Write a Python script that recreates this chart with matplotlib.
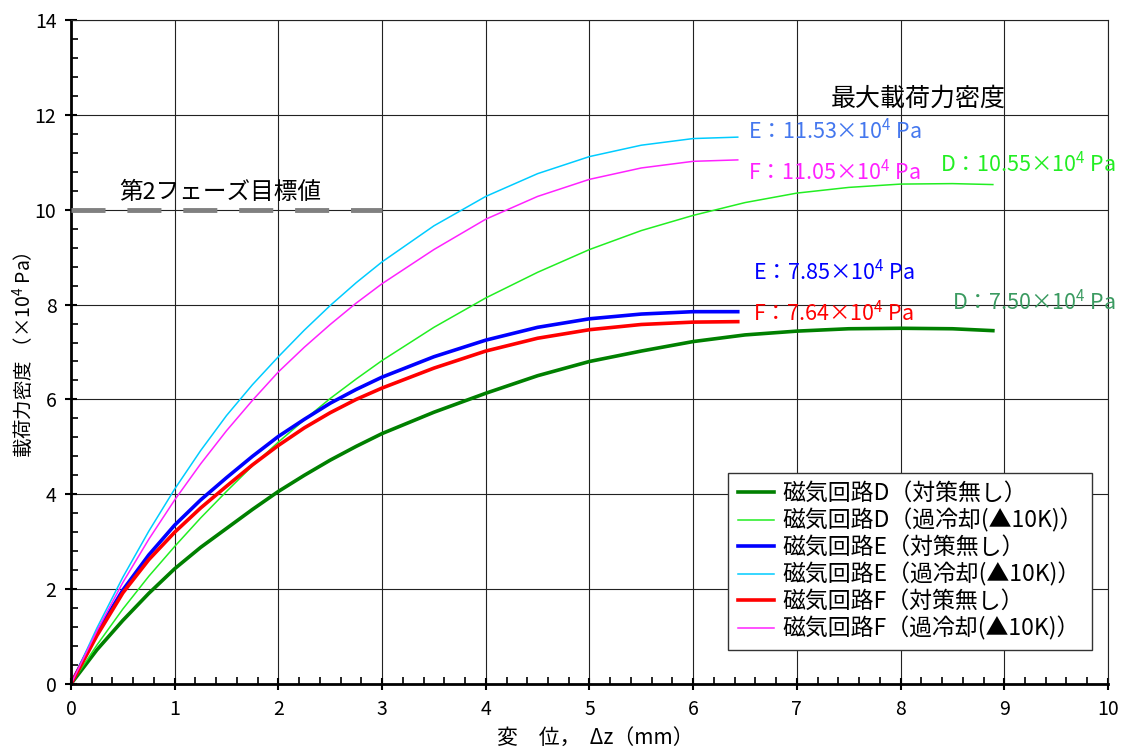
import matplotlib
matplotlib.use("Agg")
import matplotlib.pyplot as plt
from matplotlib.ticker import MultipleLocator

plt.rcParams['font.family'] = ['Noto Sans CJK JP', 'DejaVu Sans']
plt.rcParams['mathtext.fontset'] = 'custom'
plt.rcParams['mathtext.rm'] = 'Noto Sans CJK JP'

# displacement (mm)
x_ef = [0, 0.25, 0.5, 0.75, 1, 1.25, 1.5, 1.75, 2, 2.25, 2.5, 2.75, 3,
        3.5, 4, 4.5, 5, 5.5, 6, 6.43]
x_d = [0, 0.25, 0.5, 0.75, 1, 1.25, 1.5, 1.75, 2, 2.25, 2.5, 2.75, 3,
       3.5, 4, 4.5, 5, 5.5, 6, 6.5, 7, 7.5, 8, 8.5, 8.89]

# load force density (x10^4 Pa)
d_normal = [0, 0.72, 1.34, 1.91, 2.43, 2.88, 3.28, 3.68, 4.06, 4.40, 4.72, 5.01, 5.28,
            5.73, 6.13, 6.50, 6.80, 7.02, 7.22, 7.36, 7.44, 7.49, 7.50, 7.49, 7.45]
d_cooled = [0, 0.82, 1.58, 2.27, 2.90, 3.50, 4.06, 4.60, 5.10, 5.57, 6.02, 6.43, 6.82,
            7.52, 8.14, 8.68, 9.16, 9.56, 9.88, 10.15, 10.35, 10.47, 10.54, 10.55, 10.53]
e_normal = [0, 1.07, 1.98, 2.72, 3.35, 3.88, 4.35, 4.80, 5.22, 5.58, 5.92, 6.21, 6.47,
            6.90, 7.25, 7.52, 7.70, 7.80, 7.85, 7.85]
e_cooled = [0, 1.18, 2.25, 3.22, 4.11, 4.92, 5.66, 6.31, 6.90, 7.46, 7.98, 8.46, 8.90,
            9.66, 10.28, 10.76, 11.12, 11.36, 11.50, 11.53]
f_normal = [0, 1.02, 1.92, 2.62, 3.20, 3.71, 4.17, 4.62, 5.03, 5.40, 5.72, 6.00, 6.24,
            6.66, 7.02, 7.29, 7.47, 7.58, 7.63, 7.64]
f_cooled = [0, 1.12, 2.14, 3.05, 3.88, 4.64, 5.34, 5.98, 6.58, 7.10, 7.58, 8.03, 8.44,
            9.16, 9.80, 10.28, 10.64, 10.88, 11.02, 11.05]

target_x = [0, 3]
target_y = [10, 10]

fig = plt.figure(figsize=(11.3, 7.51), dpi=100)
ax = fig.add_axes([0.0628, 0.0892, 0.9177, 0.8842])

ax.set_xlim(0, 10)
ax.set_ylim(0, 14)
ax.xaxis.set_major_locator(MultipleLocator(1))
ax.xaxis.set_minor_locator(MultipleLocator(0.2))
ax.yaxis.set_major_locator(MultipleLocator(2))
ax.yaxis.set_minor_locator(MultipleLocator(0.4))
ax.grid(True, which='major', color='#222222', linewidth=0.8)
ax.set_axisbelow(True)

ax.tick_params(which='major', direction='inout', length=9, width=1.5, labelsize=14, pad=6)
ax.tick_params(which='minor', direction='in', length=5, width=1.2)
ax.tick_params(top=False, right=False)
for side in ['left', 'bottom']:
    ax.spines[side].set_linewidth(2)
for side in ['top', 'right']:
    ax.spines[side].set_linewidth(0.8)
    ax.spines[side].set_color('#222222')

# phase 2 target line
ax.plot(target_x, target_y, color='#808080', linewidth=3.5, dashes=(7, 4.5),
        solid_capstyle='butt', zorder=3)
ax.text(0.47, 10.12, '第2フェーズ目標値', fontsize=17, ha='left', va='bottom')

ax.plot(x_d, d_normal, color='#008000', linewidth=2.6, label='磁気回路D（対策無し）')
ax.plot(x_d, d_cooled, color='#22EE22', linewidth=1.1, label='磁気回路D（過冷却(▲10K)）')
ax.plot(x_ef, e_normal, color='#0000FF', linewidth=2.6, label='磁気回路E（対策無し）')
ax.plot(x_ef, e_cooled, color='#00CCFF', linewidth=1.1, label='磁気回路E（過冷却(▲10K)）')
ax.plot(x_ef, f_normal, color='#FF0000', linewidth=2.6, label='磁気回路F（対策無し）')
ax.plot(x_ef, f_cooled, color='#FF22FF', linewidth=1.1, label='磁気回路F（過冷却(▲10K)）')

# maximum load force density labels
ax.text(8.17, 12.07, '最大載荷力密度', fontsize=18, ha='center', va='bottom')
peak_labels = [
    ('E', e_cooled, '#4477EE', 6.53, 11.38),
    ('F', f_cooled, '#FF22FF', 6.53, 10.52),
    ('D', d_cooled, '#22EE22', 8.38, 10.68),
    ('E', e_normal, '#0000FF', 6.58, 8.4),
    ('F', f_normal, '#FF0000', 6.58, 7.55),
    ('D', d_normal, '#3A9A60', 8.5, 7.78),
]
for name, series, color, tx, ty in peak_labels:
    ax.text(tx, ty, f'{name}：{max(series):.2f}×10$^4$ Pa', color=color,
            fontsize=15.5, ha='left', va='bottom')

leg = ax.legend(loc='lower right', bbox_to_anchor=(0.9846, 0.0512), borderaxespad=0,
                fontsize=16.5, handlelength=1.6, handletextpad=0.35, labelspacing=0.15,
                borderpad=0.4, fancybox=False, framealpha=1)
leg.get_frame().set_edgecolor('#333333')
leg.get_frame().set_linewidth(1.0)

ax.set_xlabel('変　位，  Δz（mm）', fontsize=15)
ax.xaxis.set_label_coords(0.506, -0.065)
ax.set_ylabel('載荷力密度 （×10$^4$ Pa）', fontsize=14)
ax.yaxis.set_label_coords(-0.034, 0.495)

fig.savefig('out.png', dpi=100)
